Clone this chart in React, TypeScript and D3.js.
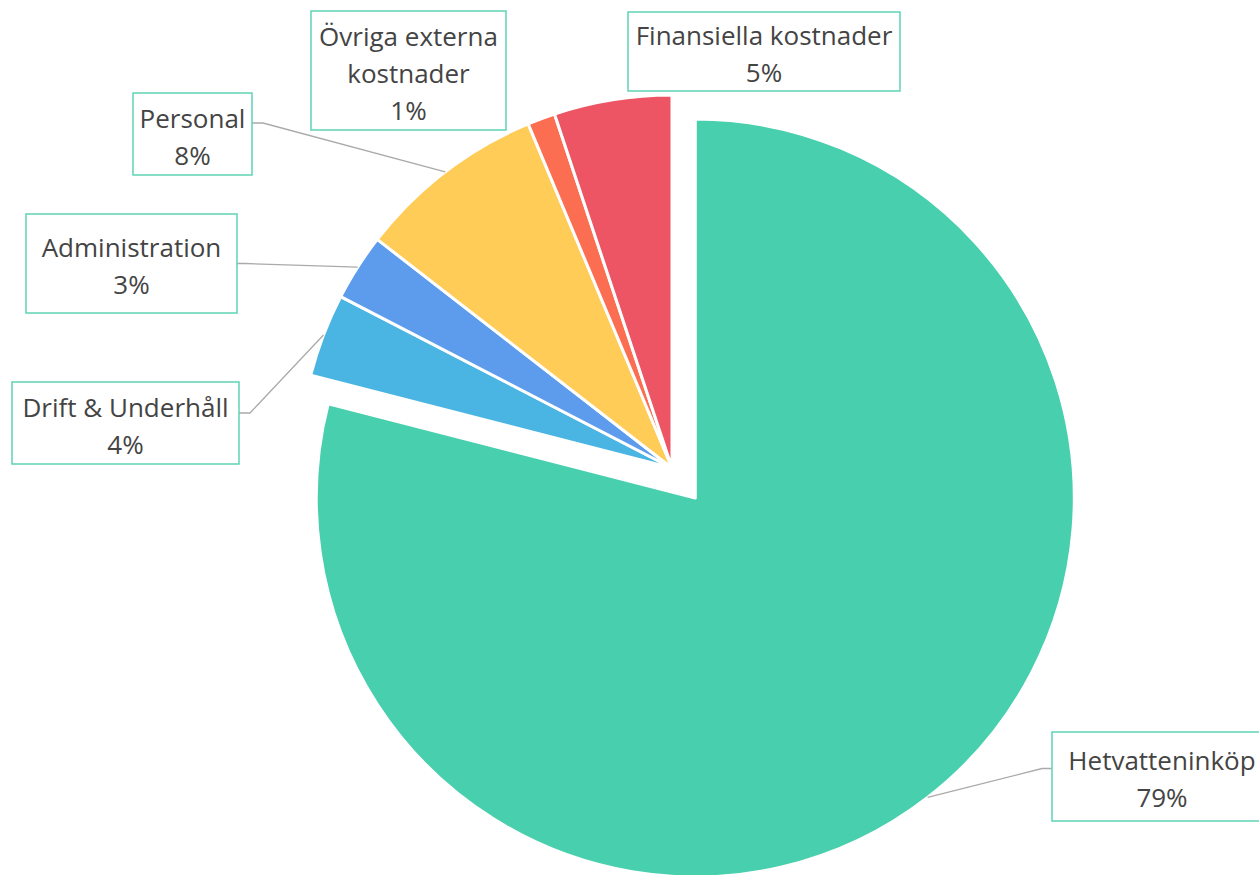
import React from 'react';
import * as d3 from 'd3';

// --- Data ---
const categories = ['Hetvatteninköp', 'Drift & Underhåll', 'Administration', 'Personal', 'Övriga externa kostnader', 'Finansiella kostnader'];
const values = [79.0, 3.6, 2.9, 8.2, 1.2, 5.1];
const percentLabels = ['79%', '4%', '3%', '8%', '1%', '5%'];
const labelLines = [['Hetvatteninköp'], ['Drift & Underhåll'], ['Administration'], ['Personal'], ['Övriga externa', 'kostnader'], ['Finansiella kostnader']];
const colors = ['#48CFAD', '#4AB5E2', '#5D9CEC', '#FFCC57', '#FC6E51', '#ED5565'];

// --- Layout ---
const W = 1259;
const H = 875;
const cx = 672;
const cy = 468;
const radius = 373;
const bigRadius = 379;
const explode = 38;
const font = '"Segoe UI", "Open Sans", "Noto Sans", sans-serif';

// label boxes: x, y, w, h and the elbow x of the leader line (null = no line)
const boxes = [
    { x: 1052, y: 732, w: 220, h: 89, elbow: 1042 },
    { x: 12, y: 382, w: 227, h: 82, elbow: 250 },
    { x: 26, y: 214, w: 211, h: 99, elbow: 245 },
    { x: 133, y: 93, w: 119, h: 82, elbow: 263 },
    { x: 311, y: 11, w: 195, h: 119, elbow: null },
    { x: 628, y: 12, w: 272, h: 79, elbow: null },
];

const App = () => {
    const pie = d3.pie<number>().sort(null).startAngle(0).endAngle(2 * Math.PI);
    const arcs = pie(values);

    const slices = arcs.map((a, i) => {
        const r = i === 0 ? bigRadius : radius;
        const mid = (a.startAngle + a.endAngle) / 2;
        const off = i === 0 ? explode : 0;
        const ox = Math.sin(mid) * off;
        const oy = -Math.cos(mid) * off;
        const path = d3.arc<any>().innerRadius(0).outerRadius(r)(a) as string;
        const ax = cx + ox + Math.sin(mid) * r;
        const ay = cy + oy - Math.cos(mid) * r;
        return { path, ox, oy, ax, ay, i };
    });

    return (
        <>
            <style>{`body{margin:0;}`}</style>
            <svg width={W} height={H} style={{ display: 'block', background: '#fff' }} fontFamily={font}>
                {slices.map(s => (
                    <path key={s.i} d={s.path} transform={`translate(${cx + s.ox},${cy + s.oy})`}
                        fill={colors[s.i]} stroke="#fff" strokeWidth={3} strokeLinejoin="round" />
                ))}
                {boxes.map((b, i) => {
                    const s = slices[i];
                    const leftSide = b.x + b.w / 2 < cx;
                    const bx = leftSide ? b.x + b.w : b.x;
                    const ly = b.y + b.h / 2 + (i === 0 ? -8 : i === 3 ? -11 : i === 1 ? -10 : 0);
                    const lines = [...labelLines[i], percentLabels[i]];
                    const tcx = i === 0 ? 1162 : b.x + b.w / 2;
                    const mid = b.y + b.h / 2 + 12;
                    return (
                        <g key={categories[i]}>
                            {b.elbow !== null && (
                                <polyline points={`${bx},${ly} ${b.elbow},${ly} ${s.ax},${s.ay}`}
                                    fill="none" stroke="#aaa" strokeWidth={1.3} />
                            )}
                            <rect x={b.x} y={b.y} width={b.w} height={b.h} fill="#fff" stroke="#5FD3B5" strokeWidth={1.5} />
                            {lines.map((t, k) => (
                                <text key={k} x={tcx} y={mid + (k - (lines.length - 1) / 2) * 37}
                                    textAnchor="middle" fontSize={26} fill="#444">{t}</text>
                            ))}
                        </g>
                    );
                })}
            </svg>
        </>
    );
};

export default App;
